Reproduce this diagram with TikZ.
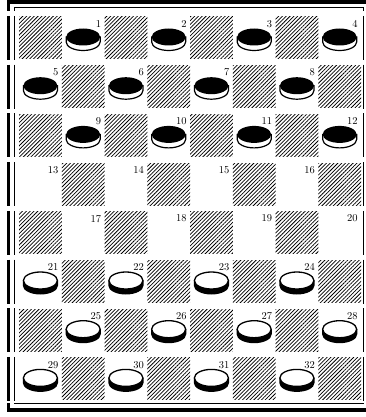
\documentclass[tikz,border=0pt]{standalone}
\usepackage{tikz}
\usetikzlibrary{patterns.meta}
\tikzset{
  board-thick/.style={line width=3.6pt, draw=black},
  board-thin/.style={line width=1pt, draw=black},
  dark-square/.style={pattern={Lines[angle=45, distance=2.7pt, line width=0.75pt]}, pattern color=black},
  sq-number/.style={anchor=north east, inner sep=0pt, font=\fontsize{10.5}{11}\selectfont}
}
% checkers, centre of the top face given
\newcommand{\blackchecker}[2]{%
  \draw[fill=white, line width=1.2pt] (#1-17,#2) -- (#1-17,#2-5)
    arc[start angle=180, end angle=360, x radius=17, y radius=8.5] -- (#1+17,#2) -- cycle;
  \fill[black] (#1,#2) ellipse[x radius=17, y radius=8.5];
}
\newcommand{\whitechecker}[2]{%
  \fill[black] (#1-17.6,#2) -- (#1-17.6,#2-5)
    arc[start angle=180, end angle=360, x radius=17.6, y radius=9] -- (#1+17.6,#2) -- cycle;
  \draw[fill=white, line width=1.3pt] (#1,#2) ellipse[x radius=17, y radius=8.5];
}

\begin{document}
\begin{tikzpicture}[x=1pt, y=1pt]
\useasboundingbox (0,0) rectangle (366,-417);
% frame, top and bottom
\draw[board-thick] (8.5,-11) -- (8.5,-2) -- (370,-2);
\draw[board-thin] (14,-11) -- (14,-7.5) -- (363.5,-7.5) -- (363.5,-11);
\draw[board-thick] (8.5,-403) -- (8.5,-410) -- (370,-410);
\draw[board-thin] (14,-403) -- (14,-403.5) -- (363.5,-403.5) -- (363.5,-403);
% rows of the board
\foreach \r in {1,...,8} {
  \pgfmathsetmacro{\rowtop}{17+48.7*(\r-1)}
  \draw[board-thick] (8.5,-\rowtop+1) -- (8.5,-\rowtop-43);
  \draw[board-thin] (14,-\rowtop+1) -- (14,-\rowtop-43);
  \draw[board-thin] (363.5,-\rowtop+1) -- (363.5,-\rowtop-43);
  \foreach \c in {1,...,8} {
    \pgfmathsetmacro{\colleft}{19+42.75*(\c-1)}
    \pgfmathtruncatemacro{\dark}{mod(\r+\c,2)}
    \ifnum\dark=0
      \fill[dark-square] (\colleft,-\rowtop) rectangle +(42.75,-42);
    \else
      \pgfmathtruncatemacro{\sqnum}{4*(\r-1)+int((\c+1)/2)}
      \pgfmathsetmacro{\cx}{\colleft+21.4}
      \pgfmathsetmacro{\cy}{-\rowtop-20}
      \ifnum\sqnum<13 \blackchecker{\cx}{\cy}\fi
      \ifnum\sqnum>20 \whitechecker{\cx}{\cy}\fi
      \node[sq-number] (num-\sqnum) at (\colleft+39.5,-\rowtop-3) {\sqnum};
    \fi
  }
}
\end{tikzpicture}
\end{document}
